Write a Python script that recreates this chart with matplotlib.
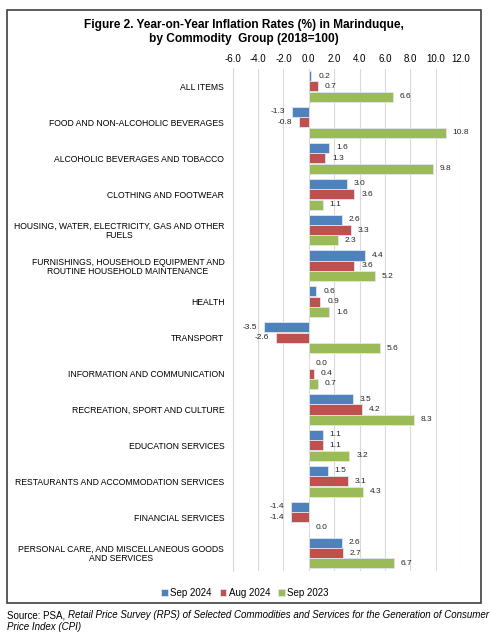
import numpy as np
import matplotlib.pyplot as plt
from matplotlib.patches import Rectangle

plt.rcParams['font.family'] = ['Liberation Sans', 'DejaVu Sans']

categories = [
    'ALL ITEMS',
    'FOOD AND NON-ALCOHOLIC BEVERAGES',
    'ALCOHOLIC BEVERAGES AND TOBACCO',
    'CLOTHING AND FOOTWEAR',
    'HOUSING, WATER, ELECTRICITY, GAS AND OTHER\nFUELS',
    'FURNISHINGS, HOUSEHOLD EQUIPMENT AND\nROUTINE HOUSEHOLD MAINTENANCE',
    'HEALTH',
    'TRANSPORT',
    'INFORMATION AND COMMUNICATION',
    'RECREATION, SPORT AND CULTURE',
    'EDUCATION SERVICES',
    'RESTAURANTS AND ACCOMMODATION SERVICES',
    'FINANCIAL SERVICES',
    'PERSONAL CARE, AND MISCELLANEOUS GOODS\nAND SERVICES',
]
sep_2024 = [0.2, -1.3, 1.6, 3.0, 2.6, 4.4, 0.6, -3.5, 0.0, 3.5, 1.1, 1.5, -1.4, 2.6]
aug_2024 = [0.7, -0.8, 1.3, 3.6, 3.3, 3.6, 0.9, -2.6, 0.4, 4.2, 1.1, 3.1, -1.4, 2.7]
sep_2023 = [6.6, 10.8, 9.8, 1.1, 2.3, 5.2, 1.6, 5.6, 0.7, 8.3, 3.2, 4.3, 0.0, 6.7]
series_names = ['Sep 2024', 'Aug 2024', 'Sep 2023']
colors = ['#4F81BD', '#C0504D', '#9BBB59']
xticks = np.arange(-6, 12.1, 2)

W, H = 491, 637
fig = plt.figure(figsize=(W / 100, H / 100), dpi=100)
ax = fig.add_axes([232.7 / W, 1 - 571 / H, (461 - 232.7) / W, (571 - 68.5) / H])

y = np.arange(len(categories))
bh = 0.28
offs = [-0.29, 0, 0.29]
for vals, name, col, off in zip([sep_2024, aug_2024, sep_2023], series_names, colors, offs):
    ax.barh(y + off, vals, height=bh, color=col, edgecolor='#dfe6ee', linewidth=0.6, label=name, zorder=3)
    for yi, v in zip(y, vals):
        if v < 0:
            ax.annotate(f'{v:.1f}', (v, yi + off), xytext=(-5, 0), textcoords='offset points',
                        ha='right', va='center', fontsize=6, color='#262626')
        else:
            ax.annotate(f'{v:.1f}', (v, yi + off), xytext=(5, 0), textcoords='offset points',
                        ha='left', va='center', fontsize=6, color='#262626')

ax.set_xlim(-6, 12)
ax.set_ylim(len(categories) - 0.5, -0.5)
ax.set_xticks(xticks)
ax.set_xticklabels([f'{t:.1f}' for t in xticks], fontsize=7)
ax.xaxis.tick_top()
ax.tick_params(axis='x', length=0, pad=3)
ax.set_yticks(y)
ax.set_yticklabels(categories, fontsize=6.2, multialignment='center', linespacing=1.05)
ax.tick_params(axis='y', length=0, pad=6)
ax.grid(axis='x', color='#d9d9d9', linewidth=0.8, zorder=0)
for s in ['top', 'right', 'bottom']:
    ax.spines[s].set_visible(False)
ax.spines['left'].set_color('#d9d9d9')
ax.spines['left'].set_linewidth(0.8)

fig.text(244 / W, 1 - 32 / H, 'Figure 2. Year-on-Year Inflation Rates (%) in Marinduque,\nby Commodity  Group (2018=100)',
         ha='center', va='center', fontsize=8.6, fontweight='bold', linespacing=1.25)

fig.legend(loc='center', bbox_to_anchor=(245 / W, 1 - 593 / H), ncol=3, frameon=False,
           fontsize=7, handlelength=0.7, handleheight=0.7, handletextpad=0.25, columnspacing=0.8)

fig.patches.append(Rectangle((7 / W, 1 - 603 / H), (481 - 7) / W, (603 - 10) / H,
                             transform=fig.transFigure, fill=False, edgecolor='#404040', linewidth=1.2))

t1 = fig.text(7 / W, 1 - 615 / H, 'Source: PSA, ', ha='left', va='center', fontsize=7)
fig.canvas.draw()
bb = t1.get_window_extent()
fig.text(bb.x1 / W, 1 - 615 / H,
         'Retail Price Survey (RPS) of Selected Commodities and Services for the Generation of Consumer',
         ha='left', va='center', fontsize=7, style='italic')
fig.text(7 / W, 1 - 627 / H, 'Price Index (CPI)', ha='left', va='center', fontsize=7, style='italic')

fig.savefig('out.png', dpi=100)
